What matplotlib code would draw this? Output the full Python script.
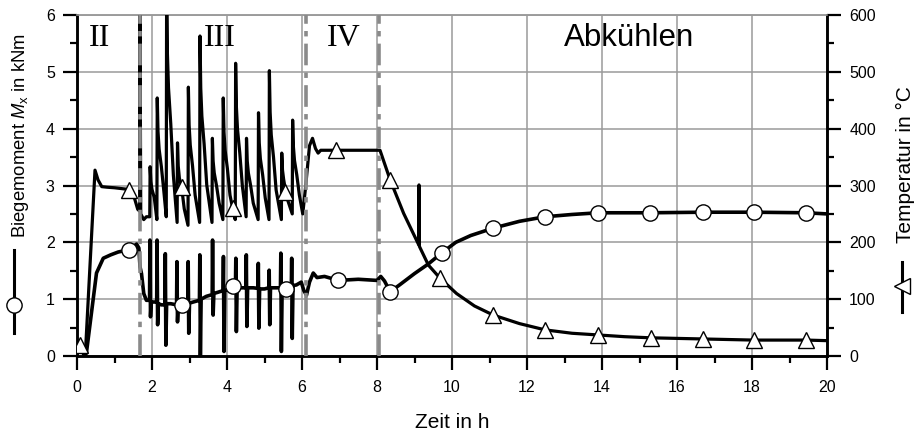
import matplotlib
matplotlib.use("Agg")
import matplotlib.pyplot as plt
from matplotlib.lines import Line2D
from matplotlib.ticker import MultipleLocator

plt.rcParams['font.family'] = ['Liberation Sans', 'DejaVu Sans']
plt.rcParams['mathtext.fontset'] = 'custom'
plt.rcParams['mathtext.rm'] = 'Liberation Sans'
plt.rcParams['mathtext.it'] = 'Liberation Sans:italic'

# Temperatur (rechte Achse), Zeit in h / Temperatur in °C
temp_t = [0.0, 0.08, 0.22, 0.48, 0.56, 0.66, 0.8, 1.0, 1.39, 1.5, 1.62, 1.67, 1.68, 1.70, 1.78, 1.85, 1.94,
          1.95, 1.97, 2.00, 2.06, 2.13,
          2.14, 2.16, 2.19, 2.25, 2.32, 2.38,
          2.39, 2.41, 2.44, 2.50, 2.57, 2.67,
          2.68, 2.70, 2.73, 2.79, 2.86, 2.96,
          2.97, 2.99, 3.02, 3.08, 3.15, 3.27,
          3.28, 3.30, 3.33, 3.39, 3.46, 3.60,
          3.61, 3.63, 3.66, 3.72, 3.79, 3.89,
          3.90, 3.92, 3.95, 4.01, 4.08, 4.15, 4.22,
          4.23, 4.25, 4.28, 4.34, 4.41, 4.51,
          4.52, 4.54, 4.57, 4.63, 4.70, 4.83,
          4.84, 4.86, 4.89, 4.95, 5.02, 5.12,
          5.13, 5.15, 5.18, 5.24, 5.31, 5.45,
          5.46, 5.48, 5.51, 5.55, 5.62, 5.74,
          5.75, 5.77, 5.80, 5.86, 5.93, 6.02,
          6.10, 6.20, 6.28, 6.36, 6.43, 6.50, 6.92, 7.5, 8.08,
          8.35, 8.71, 9.11, 9.12, 9.13, 9.37, 9.68, 10.12, 10.6, 11.1, 11.8, 12.48,
          13.2, 13.9, 14.6, 15.3, 16.7, 18.05, 19.45, 20.0]
temp_c = [15, 19, 0, 327, 310, 298, 297, 296, 293, 285, 258, 255, 600, 250, 240, 245, 245,
          333, 307, 293, 279, 240,
          454, 395, 364, 333, 287, 245,
          650, 534, 472, 409, 318, 235,
          375, 334, 313, 297, 259, 230,
          473, 406, 371, 335, 283, 235,
          563, 471, 422, 373, 301, 235,
          383, 343, 322, 300, 269, 240,
          454, 394, 362, 330, 283, 260, 240,
          515, 439, 399, 358, 299, 245,
          383, 343, 322, 300, 269, 240,
          428, 375, 347, 319, 278, 240,
          502, 429, 389, 350, 292, 240,
          357, 327, 311, 295, 274, 250,
          415, 369, 344, 319, 283, 250,
          300, 370, 383, 365, 357, 362, 362, 362, 362,
          310, 251, 196, 301, 193, 160, 137, 110, 88, 72, 57, 46,
          40, 37, 34, 32, 30, 28, 28, 27]

# Biegemoment (linke Achse), kNm
mom_t = [0.0, 0.1, 0.2, 0.25, 0.52, 0.7, 0.9, 1.1, 1.39, 1.59, 1.65, 1.68, 1.72, 1.78, 1.85,
         1.935, 1.945, 1.96, 1.98, 2.05,
         2.125, 2.135, 2.15, 2.17, 2.25,
         2.345, 2.355, 2.37, 2.39, 2.5,
         2.655, 2.665, 2.68, 2.70, 2.79,
         2.955, 2.965, 2.98, 3.00, 3.1,
         3.265, 3.275, 3.29, 3.31, 3.45,
         3.605, 3.615, 3.63, 3.65, 3.75,
         3.895, 3.905, 3.92, 3.94, 4.05, 4.17,
         4.225, 4.235, 4.25, 4.27, 4.4,
         4.505, 4.515, 4.53, 4.55, 4.7,
         4.825, 4.835, 4.85, 4.87, 5.0,
         5.115, 5.125, 5.14, 5.16, 5.3,
         5.425, 5.435, 5.45, 5.47, 5.57,
         5.715, 5.725, 5.74, 5.76,
         5.85, 5.98, 6.05, 6.12, 6.2, 6.3, 6.4, 6.6, 6.97, 7.5, 8.0, 8.1, 8.2, 8.35,
         8.6, 9.0, 9.37, 9.72, 10.1, 10.5, 11.1, 11.8, 12.48, 13.2, 13.9, 15.28,
         16.7, 18.05, 19.45, 20.0]
mom_knm = [0.25, 0.15, 0.0, 0.05, 1.46, 1.72, 1.78, 1.83, 1.87, 1.97, 1.9, 1.57, 1.45, 1.1, 0.98,
           0.98, 2.04, 0.69, 0.95, 0.95,
           0.95, 2.04, 0.55, 0.92, 0.90,
           0.90, 1.80, 0.19, 0.92, 0.92,
           0.90, 1.66, 0.60, 0.90, 0.90,
           0.92, 1.66, 0.40, 0.93, 0.95,
           0.98, 1.78, 0.00, 1.00, 1.05,
           1.08, 2.04, 0.72, 1.10, 1.12,
           1.15, 1.75, 0.08, 1.15, 1.17, 1.23,
           1.20, 1.72, 0.43, 1.20, 1.20,
           1.20, 1.78, 0.52, 1.20, 1.20,
           1.19, 1.63, 0.49, 1.18, 1.18,
           1.20, 1.51, 0.55, 1.20, 1.20,
           1.20, 1.81, 0.08, 1.18, 1.18,
           1.22, 1.72, 0.31, 1.24,
           1.25, 1.30, 1.15, 1.07, 1.30, 1.46, 1.38, 1.40, 1.33, 1.35, 1.33, 1.40, 1.32, 1.13,
           1.25, 1.45, 1.62, 1.81, 2.00, 2.12, 2.25, 2.37, 2.45, 2.49, 2.52, 2.52,
           2.53, 2.53, 2.52, 2.50]

# Symbole
mom_mk_t = [1.39, 2.79, 4.17, 5.57, 6.97, 8.35, 9.72, 11.1, 12.48, 13.9, 15.28, 16.7, 18.05, 19.45]
mom_mk = [1.87, 0.90, 1.23, 1.18, 1.33, 1.13, 1.81, 2.25, 2.45, 2.52, 2.52, 2.53, 2.53, 2.52]
temp_mk_t = [0.08, 1.39, 2.79, 4.15, 5.55, 6.92, 8.35, 9.68, 11.1, 12.48, 13.9, 15.3, 16.7, 18.05, 19.45]
temp_mk = [19, 292, 298, 260, 289, 363, 310, 137, 72, 46, 37, 32, 30, 28, 28]

phase_lines = [1.69, 6.1, 8.05]
phase_labels = ['II', 'III', 'IV']
phase_label_t = [0.59, 3.81, 7.12]

W, H = 914, 437
fig = plt.figure(figsize=(W / 100, H / 100), dpi=100)
ax = fig.add_axes([77 / W, 1 - 356 / H, 750 / W, 341 / H])
ax2 = ax.twinx()

ax.set_xlim(0, 20)
ax.set_ylim(0, 6)
ax2.set_ylim(0, 600)

ax.set_axisbelow(True)
ax.grid(True, which='major', color='#9a9a9a', lw=1.1)

ax.plot(mom_t, mom_knm, color='black', lw=2.6, zorder=3, solid_joinstyle='round')
ax.plot(mom_mk_t, mom_mk, ls='none', marker='o', ms=11, mfc='white', mec='black', mew=1.0, zorder=4)

ax2.plot(temp_t, temp_c, color='black', lw=2.3, zorder=3, solid_joinstyle='round')
ax2.plot(temp_mk_t, temp_mk, ls='none', marker='^', ms=12, mfc='white', mec='black', mew=1.0, zorder=4)

for x in phase_lines:
    ax2.axvline(x, color='#8a8a8a', lw=2.6, ls=(0, (6, 2, 1.5, 2)), zorder=5)

for lab, x in zip(phase_labels, phase_label_t):
    ax.text(x, 5.45, lab, family='Liberation Serif', fontsize=23, ha='center', va='baseline', zorder=6)
ax.text(14.71, 5.45, 'Abkühlen', fontsize=22.5, ha='center', va='baseline', zorder=6)

ax.xaxis.set_major_locator(MultipleLocator(2))
ax.xaxis.set_minor_locator(MultipleLocator(1))
ax.yaxis.set_major_locator(MultipleLocator(1))
ax.yaxis.set_minor_locator(MultipleLocator(0.5))
ax2.yaxis.set_major_locator(MultipleLocator(100))
ax2.yaxis.set_minor_locator(MultipleLocator(50))

for a in (ax, ax2):
    a.tick_params(which='major', direction='out', length=10, width=1.6, labelsize=11.5, pad=6)
    a.tick_params(which='minor', direction='out', length=5, width=1.6)
    for s in ('left', 'right', 'bottom'):
        a.spines[s].set_linewidth(1.8)
    a.spines['top'].set_color('#9a9a9a')
    a.spines['top'].set_linewidth(1.1)
ax.tick_params(axis='x', pad=7)

# Achsenbeschriftungen mit Legendensymbol
def fx(px):
    return px / W

def fy(py):
    return 1 - py / H

fig.text(fx(452), fy(423), 'Zeit in h', fontsize=15, ha='center', va='center')
fig.text(fx(21), fy(135), r'Biegemoment $M_\mathregular{x}$ in kNm', fontsize=13.3, rotation=90,
         ha='center', va='center')
fig.text(fx(905), fy(165), 'Temperatur in °C', fontsize=15, rotation=90, ha='center', va='center')

fig.add_artist(Line2D([fx(14), fx(14)], [fy(250), fy(333)], transform=fig.transFigure,
                      color='black', lw=2.2))
fig.add_artist(Line2D([fx(14)], [fy(305)], transform=fig.transFigure, ls='none', marker='o',
                      ms=11, mfc='white', mec='black', mew=1.0))
fig.add_artist(Line2D([fx(902), fx(902)], [fy(262), fy(312)], transform=fig.transFigure,
                      color='black', lw=2.2))
fig.add_artist(Line2D([fx(902)], [fy(286)], transform=fig.transFigure, ls='none', marker='<',
                      ms=11, mfc='white', mec='black', mew=1.0))

fig.savefig('out.png', dpi=100)
